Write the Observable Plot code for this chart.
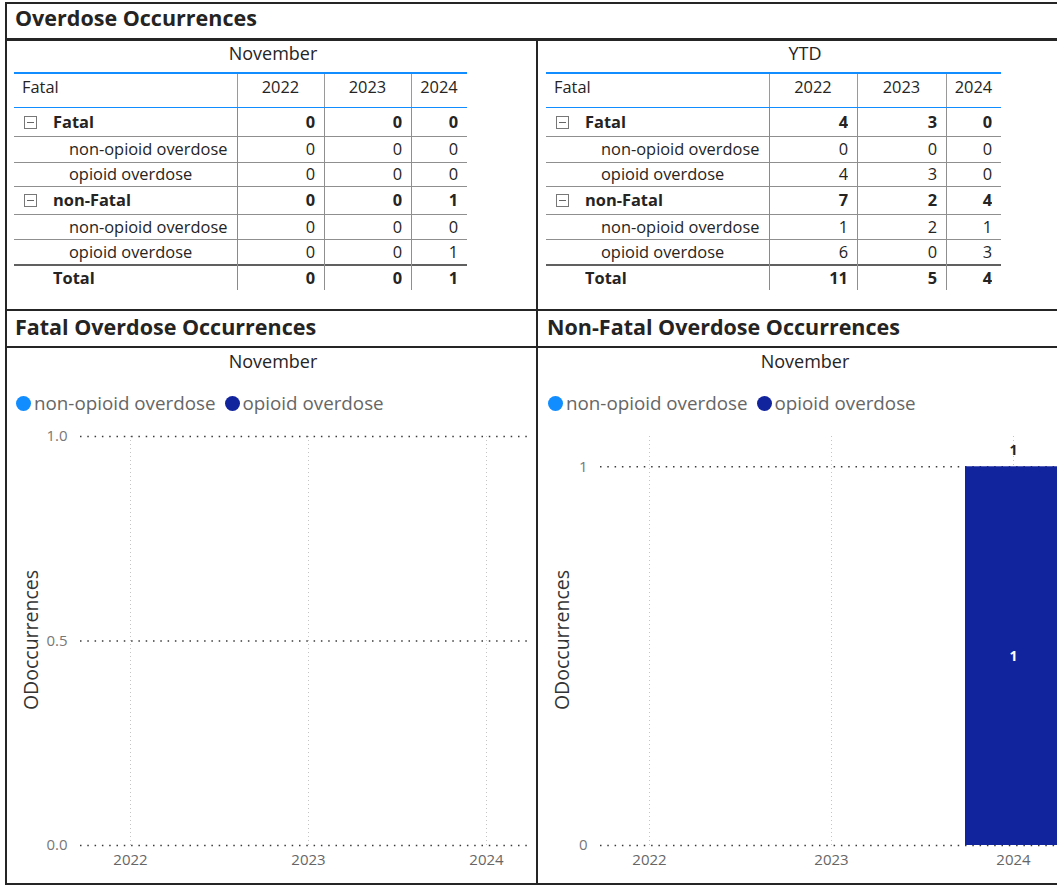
<!DOCTYPE html>
<html>
<head>
<meta charset="utf-8">
<script src="https://cdn.jsdelivr.net/npm/d3@7"></script>
<script src="https://cdn.jsdelivr.net/npm/@observablehq/plot@0.6"></script>
<style>
  html, body { margin: 0; padding: 0; background: #fff; }
  body { width: 1057px; height: 886px; position: relative; overflow: hidden; font-family: "Open Sans", "Noto Sans", sans-serif; color: #252423; }
  .line { position: absolute; background: #252525; }
  .title { position: absolute; font-weight: 700; font-size: 21.5px; line-height: 24px; white-space: nowrap; color: #252423; }
  .sub { position: absolute; font-size: 18px; line-height: 22px; white-space: nowrap; color: #252423; transform: translateX(-50%); }
  .cell { position: absolute; white-space: nowrap; font-size: 16.4px; overflow: hidden; }
  .legend { position: absolute; font-size: 18.8px; line-height: 22px; color: #666; white-space: nowrap; display: flex; align-items: center; }
  .legend .dot { width: 15px; height: 15px; border-radius: 50%; display: inline-block; margin-right: 3px; }
  .legend .item { display: flex; align-items: center; margin-right: 9px; }
  .ytitle { position: absolute; font-size: 19.5px; color: #333; white-space: nowrap; transform: translate(-50%, -50%) rotate(-90deg); }
  .box { position: absolute; width: 13px; height: 13px; border: 1px solid #777; box-sizing: border-box; }
  .box::after { content: ""; position: absolute; left: 2px; right: 2px; top: 5px; height: 1px; background: #666; }
</style>
</head>
<body>
<script>
// ---------------- data ----------------
const years = ["2022", "2023", "2024"];
const types = ["non-opioid overdose", "opioid overdose"];
const typeColors = ["#118DFF", "#12239E"];
const groups = ["Fatal", "non-Fatal"];

// November
const novFatalNonOpioid = [0, 0, 0];
const novFatalOpioid = [0, 0, 0];
const novNonFatalNonOpioid = [0, 0, 0];
const novNonFatalOpioid = [0, 0, 1];

// Year to date
const ytdFatalNonOpioid = [0, 0, 0];
const ytdFatalOpioid = [4, 3, 0];
const ytdNonFatalNonOpioid = [1, 2, 1];
const ytdNonFatalOpioid = [6, 0, 3];

const yTicksFatal = [0, 0.5, 1];
const yTicksNonFatal = [0, 1];

// ---------------- helpers ----------------
function el(cls, css, text) {
  const d = document.createElement("div");
  if (cls) d.className = cls;
  Object.assign(d.style, css || {});
  if (text != null) d.textContent = text;
  document.body.appendChild(d);
  return d;
}
function hline(x, y, w, h, color) { return el("line", {left: x + "px", top: y + "px", width: w + "px", height: h + "px", background: color || "#252525"}); }
function vline(x, y, h, w, color) { return el("line", {left: x + "px", top: y + "px", width: w + "px", height: h + "px", background: color || "#252525"}); }

// ---------------- frame ----------------
hline(6, 2, 1051, 2);
vline(5, 2, 883, 2);
hline(6, 38, 1051, 3);
vline(536, 39, 846, 2);
hline(6, 309, 1051, 2);
hline(6, 346, 1051, 2);
hline(6, 883, 1051, 2);

el("title", {left: "15px", top: "6px"}, "Overdose Occurrences");
el("title", {left: "15px", top: "315px"}, "Fatal Overdose Occurrences");
el("title", {left: "547px", top: "315px"}, "Non-Fatal Overdose Occurrences");

// ---------------- tables ----------------
function sum(a, b) { return a.map((v, i) => v + b[i]); }

function buildTable(x0, colWidths, heading, headingX, fatalNon, fatalOp, nonFatalNon, nonFatalOp) {
  el("sub", {left: headingX + "px", top: "42px"}, heading);
  const top = 72;
  const totalW = colWidths.reduce((a, b) => a + b, 0);
  const colX = [x0];
  colWidths.forEach(w => colX.push(colX[colX.length - 1] + w));
  const headerH = 35;
  const rows = [
    {kind: "group", label: groups[0], vals: sum(fatalNon, fatalOp), h: 28},
    {kind: "sub", label: types[0], vals: fatalNon, h: 26},
    {kind: "sub", label: types[1], vals: fatalOp, h: 24},
    {kind: "group", label: groups[1], vals: sum(nonFatalNon, nonFatalOp), h: 28},
    {kind: "sub", label: types[0], vals: nonFatalNon, h: 25},
    {kind: "sub", label: types[1], vals: nonFatalOp, h: 26},
    {kind: "total", label: "Total", vals: sum(sum(fatalNon, fatalOp), sum(nonFatalNon, nonFatalOp)), h: 25}
  ];
  // header
  el("cell", {left: (x0 + 8) + "px", top: top + "px", height: headerH + "px", lineHeight: (headerH - 6) + "px", width: (colWidths[0] - 8) + "px"}, "Fatal");
  years.forEach((yr, i) => {
    el("cell", {left: colX[i + 1] + "px", top: top + "px", width: colWidths[i + 1] + "px", height: headerH + "px", lineHeight: (headerH - 6) + "px", textAlign: "center"}, yr);
  });
  hline(x0, top, totalW, 2, "#118DFF");
  hline(x0, top + headerH, totalW, 1, "#118DFF");
  for (let i = 1; i < colX.length - 1; i++) vline(colX[i], top + 2, headerH - 2, 1, "#9a9a9a");
  // body
  let y = top + headerH + 1;
  const bodyTop = y;
  rows.forEach((r, ri) => {
    const bold = r.kind !== "sub";
    const labelX = r.kind === "sub" ? x0 + 55 : x0 + 39;
    el("cell", {left: labelX + "px", top: y + "px", height: r.h + "px", lineHeight: r.h + "px", fontWeight: bold ? "700" : "400", width: (colX[1] - labelX - 2) + "px"}, r.label);
    if (r.kind === "group") el("box", {left: (x0 + 10) + "px", top: (y + (r.h - 13) / 2) + "px"});
    r.vals.forEach((v, i) => {
      el("cell", {left: colX[i + 1] + "px", top: y + "px", width: (colWidths[i + 1] - 9) + "px", height: r.h + "px", lineHeight: r.h + "px", textAlign: "right", fontWeight: bold ? "700" : "400"}, String(v));
    });
    y += r.h;
    if (ri < rows.length - 1) {
      if (rows[ri + 1].kind === "total") hline(x0, y - 1, totalW, 2, "#606060");
      else hline(x0, y, totalW, 1, "#8f8f8f");
    }
  });
  vline(colX[1], bodyTop, y - bodyTop, 1, "#3d9cf5");
  for (let i = 2; i < colX.length - 1; i++) vline(colX[i], bodyTop, y - bodyTop, 1, "#8f8f8f");
}

buildTable(14, [223, 87, 87, 56], "November", 273, novFatalNonOpioid, novFatalOpioid, novNonFatalNonOpioid, novNonFatalOpioid);
buildTable(546, [223, 88, 89, 55], "YTD", 805, ytdFatalNonOpioid, ytdFatalOpioid, ytdNonFatalNonOpioid, ytdNonFatalOpioid);

// ---------------- charts ----------------
function legend(x) {
  const lg = el("legend", {left: x + "px", top: "392px"});
  types.forEach((t, i) => {
    const it = document.createElement("span"); it.className = "item";
    const dot = document.createElement("span"); dot.className = "dot"; dot.style.background = typeColors[i];
    const tx = document.createElement("span"); tx.textContent = t;
    it.appendChild(dot); it.appendChild(tx); lg.appendChild(it);
  });
}

function longData(nonop, op) {
  const out = [];
  years.forEach((yr, i) => {
    out.push({year: yr, type: types[0], value: nonop[i]});
    out.push({year: yr, type: types[1], value: op[i]});
  });
  return out;
}

function chart(opts) {
  const data = longData(opts.nonop, opts.op);
  const totals = years.map((yr, i) => ({year: yr, total: opts.nonop[i] + opts.op[i]})).filter(d => d.total > 0);
  const plot = Plot.plot({
    width: opts.width,
    height: 465,
    marginTop: 16,
    marginBottom: 40,
    marginLeft: opts.marginLeft,
    marginRight: opts.marginRight,
    style: {fontFamily: "Open Sans, Noto Sans, sans-serif", fontSize: "15px", background: "transparent", overflow: "visible"},
    x: {type: "band", domain: years, paddingInner: 0.47, paddingOuter: 0.23, insetLeft: opts.insetLeft, insetRight: opts.insetRight},
    y: {domain: opts.yDomain},
    color: {domain: types, range: typeColors},
    marks: [
      Plot.gridX(years, {stroke: "#c4c4c4", strokeOpacity: 1, strokeDasharray: "1 3", strokeWidth: 1}),
      Plot.gridY(opts.yTicks, {stroke: "#3a3a3a", strokeOpacity: 1, strokeDasharray: "1.5 5.8", strokeWidth: 1.5}),
      Plot.barY(data, {x: "year", y: "value", fill: "type"}),
      Plot.text(data.filter(d => d.value > 0), Plot.stackY({x: "year", y: "value", z: "type", text: d => String(d.value), fill: "white", fontWeight: "bold", fontSize: 14})),
      Plot.text(totals, {x: "year", y: "total", text: d => String(d.total), dy: -16, fill: "#252423", fontWeight: "bold", fontSize: 14}),
      Plot.axisX({tickSize: 0, tickPadding: 9, label: null, color: "#666", fontSize: 15}),
      Plot.axisY(opts.yTicks, {tickSize: 0, tickPadding: 13, label: null, tickFormat: opts.yFormat, color: "#777", fontSize: 15})
    ]
  });
  plot.style.position = "absolute";
  plot.style.left = opts.left + "px";
  plot.style.top = "420px";
  document.body.appendChild(plot);
}

el("sub", {left: "273px", top: "350px"}, "November");
el("sub", {left: "805px", top: "350px"}, "November");
legend(16);
legend(548);
el("ytitle", {left: "30px", top: "640px"}, "ODoccurrences");
el("ytitle", {left: "561px", top: "640px"}, "ODoccurrences");

chart({left: 7, width: 530, marginLeft: 73, marginRight: 10, insetLeft: -39, insetRight: -48,
       yDomain: [0, 1], yTicks: yTicksFatal, yFormat: d3.format(".1f"),
       nonop: novFatalNonOpioid, op: novFatalOpioid});
chart({left: 539, width: 530, marginLeft: 61, marginRight: 13, insetLeft: -42, insetRight: -48.5,
       yDomain: [0, 1.08], yTicks: yTicksNonFatal, yFormat: d3.format("d"),
       nonop: novNonFatalNonOpioid, op: novNonFatalOpioid});
</script>
</body>
</html>
